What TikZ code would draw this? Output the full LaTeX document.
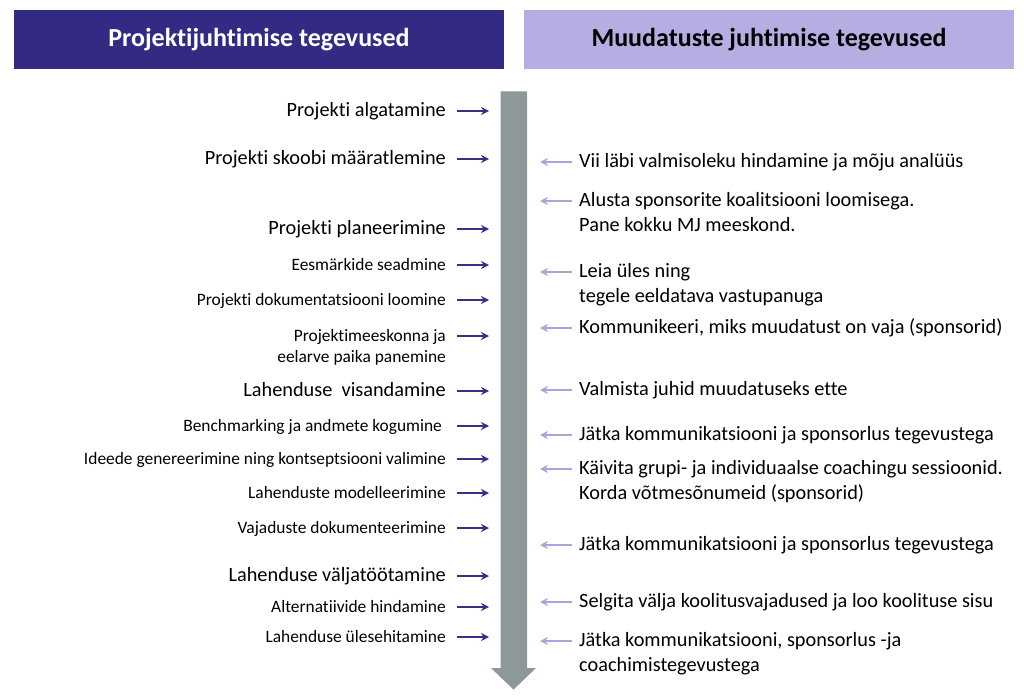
\documentclass[tikz,border=0pt]{standalone}
\usepackage{fontspec}
\setmainfont[Ligatures={NoCommon}]{Carlito}
\usetikzlibrary{arrows.meta}
\definecolor{pmdark}{HTML}{332A84}
\definecolor{cmlight}{HTML}{B6ADE3}
\definecolor{larrc}{HTML}{3A2F86}
\definecolor{rarrc}{HTML}{ADA3DA}
\definecolor{trunk}{HTML}{8E9898}
\tikzset{
  hdr/.style={minimum width=490pt,minimum height=59pt,inner sep=0pt,font=\fontsize{26}{30}\selectfont\bfseries},
  bigl/.style={anchor=mid east,inner sep=0pt,yshift=-3pt,font=\fontsize{20.3}{25}\selectfont},
  smalll/.style={anchor=mid east,inner sep=0pt,yshift=-3pt,align=right,font=\fontsize{17.4}{21}\selectfont},
  rtext/.style={anchor=mid west,inner sep=0pt,yshift=-3pt,align=left,font=\fontsize{20.3}{25}\selectfont},
  larr/.style={draw=larrc,line width=2.1pt,-{Stealth[length=8pt,width=8pt]}},
  rarr/.style={draw=rarrc,line width=2.1pt,-{Stealth[length=8pt,width=8pt]}},
}
\begin{document}
\begin{tikzpicture}[x=1pt,y=-1pt]
\useasboundingbox (0,0) rectangle (1024,698);
\fill[white] (0,0) rectangle (1024,698);
% headers
\node[hdr,fill=pmdark,text=white] (h1) at (259,39.5) {Projektijuhtimise tegevused};
\node[hdr,fill=cmlight,text=black] (h2) at (769,39.5) {Muudatuste juhtimise tegevused};
% timeline arrow
\fill[trunk] (500.5,91.5) -- (527,91.5) -- (527,668) -- (536,668) -- (513.5,689.5) -- (491,668) -- (500.5,668) -- cycle;
% left items
\node[bigl] (l1) at (446,111) {Projekti algatamine};
\node[bigl] (l2) at (446,159) {Projekti skoobi määratlemine};
\node[bigl] (l3) at (446,229) {Projekti planeerimine};
\node[smalll] (l4) at (446,265) {Eesmärkide seadmine};
\node[smalll] (l5) at (446,300) {Projekti dokumentatsiooni loomine};
\node[smalll] (l6) at (446,357) {Projektimeeskonna ja\\eelarve paika panemine};
\node[bigl] (l7) at (446,391) {Lahenduse\ \ visandamine};
\node[smalll] (l8) at (446,426) {Benchmarking ja andmete kogumine\ };
\node[smalll] (l9) at (446,459) {Ideede genereerimine ning kontseptsiooni valimine};
\node[smalll] (l10) at (446,493) {Lahenduste modelleerimine};
\node[smalll] (l11) at (446,528) {Vajaduste dokumenteerimine};
\node[bigl] (l12) at (446,576) {Lahenduse väljatöötamine};
\node[smalll] (l13) at (446,607) {Alternatiivide hindamine};
\node[smalll] (l14) at (446,637) {Lahenduse ülesehitamine};
\foreach \n/\yy in {l1/111,l2/159,l3/229,l4/265,l5/300,l6/336,l7/391,l8/426,l9/459,l10/493,l11/528,l12/576,l13/607,l14/637}{
  \coordinate (\n a) at (457,\yy);
  \coordinate (\n b) at (489,\yy);
  \draw[larr] (\n a) -- (\n b);
}
% right items (multi-line nodes are placed by their last line)
\node[rtext] (r1) at (579,162) {Vii läbi valmisoleku hindamine ja mõju analüüs};
\node[rtext] (r2) at (579,226) {Alusta sponsorite koalitsiooni loomisega.\\Pane kokku MJ meeskond.};
\node[rtext] (r3) at (579,297) {Leia üles ning\\tegele eeldatava vastupanuga};
\node[rtext] (r4) at (579,328) {Kommunikeeri, miks muudatust on vaja (sponsorid)};
\node[rtext] (r5) at (579,390) {Valmista juhid muudatuseks ette};
\node[rtext] (r6) at (579,435) {Jätka kommunikatsiooni ja sponsorlus tegevustega};
\node[rtext] (r7) at (579,494) {Käivita grupi- ja individuaalse coachingu sessioonid.\\Korda võtmesõnumeid (sponsorid)};
\node[rtext] (r8) at (579,545) {Jätka kommunikatsiooni ja sponsorlus tegevustega};
\node[rtext] (r9) at (579,602) {Selgita välja koolitusvajadused ja loo koolituse sisu};
\node[rtext] (r10) at (579,666) {Jätka kommunikatsiooni, sponsorlus -ja\\coachimistegevustega};
\foreach \n/\yy in {r1/162,r2/201,r3/272,r4/328,r5/390,r6/435,r7/469,r8/545,r9/602,r10/641}{
  \coordinate (\n a) at (572,\yy);
  \coordinate (\n b) at (540,\yy);
  \draw[rarr] (\n a) -- (\n b);
}
\end{tikzpicture}
\end{document}
